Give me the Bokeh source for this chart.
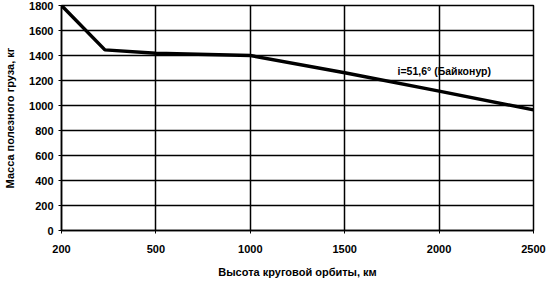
from bokeh.plotting import figure
from bokeh.models import Range1d, FixedTicker, Label, ColumnDataSource
from bokeh.embed import file_html
from bokeh.resources import INLINE

# Category tick labels (equally spaced on the axis)
x_labels = ["200", "500", "1000", "1500", "2000", "2500"]
# Series: positions along the category axis (index units) and payload mass, kg
series_pos = [0, 0.46, 1, 2, 3, 4, 5]
series_mass = [1800, 1445, 1418, 1400, 1262, 1115, 965]
y_ticks = [0, 200, 400, 600, 800, 1000, 1200, 1400, 1600, 1800]
annotation = "i=51,6° (Байконур)"

FONT = "Liberation Sans"

p = figure(width=547, height=281, output_backend="svg", toolbar_location=None,
           x_range=Range1d(0, len(x_labels) - 1), y_range=Range1d(0, 1800),
           min_border_left=61, min_border_right=14, min_border_top=5,
           min_border_bottom=51)
p.background_fill_color = "white"
p.border_fill_color = "white"
p.outline_line_color = "black"
p.outline_line_width = 1.5

src = ColumnDataSource(dict(x=series_pos, y=series_mass))
p.line("x", "y", source=src, line_color="black", line_width=3.5)

p.xaxis.ticker = FixedTicker(ticks=list(range(len(x_labels))))
p.xaxis.major_label_overrides = {i: s for i, s in enumerate(x_labels)}
p.yaxis.ticker = FixedTicker(ticks=y_ticks)

for ax in (p.xaxis[0], p.yaxis[0]):
    ax.axis_line_color = "black"
    ax.axis_line_width = 1.5
    ax.major_tick_line_color = "black"
    ax.major_tick_in = 0
    ax.major_tick_out = 3
    ax.minor_tick_line_color = None
    ax.major_label_text_font = FONT
    ax.major_label_text_font_style = "bold"
    ax.major_label_text_font_size = "11px"
    ax.major_label_text_color = "black"
    ax.axis_label_text_font = FONT
    ax.axis_label_text_font_style = "bold"
    ax.axis_label_text_font_size = "11px"
    ax.axis_label_text_color = "black"

p.xaxis.axis_label = "Высота круговой орбиты, км"
p.xaxis.major_label_standoff = 11
p.xaxis.axis_label_standoff = 10
p.yaxis.axis_label = "Масса полезного груза, кг"
p.yaxis.major_label_standoff = 5
p.yaxis.axis_label_standoff = 10

p.xgrid.ticker = FixedTicker(ticks=list(range(len(x_labels))))
p.ygrid.ticker = FixedTicker(ticks=y_ticks)
p.grid.grid_line_color = "black"
p.grid.grid_line_width = 1.5
p.grid.grid_line_alpha = 1

p.add_layout(Label(x=3.56, y=1280, text=annotation, text_font=FONT,
                   text_font_style="bold", text_font_size="10.5px",
                   text_color="black", text_baseline="middle"))

open("out.html", "w").write(file_html(p, INLINE))
